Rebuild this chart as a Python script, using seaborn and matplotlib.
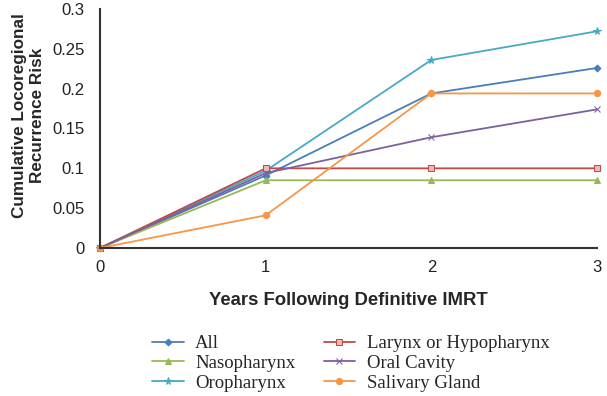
import matplotlib
matplotlib.use("Agg")
import matplotlib.pyplot as plt
import seaborn as sns
import pandas as pd

years = [0, 1, 2, 3]
series_names = ["All", "Nasopharynx", "Oropharynx", "Larynx or Hypopharynx", "Oral Cavity", "Salivary Gland"]
all_vals = [0, 0.091, 0.194, 0.226]
naso_vals = [0, 0.085, 0.085, 0.085]
oro_vals = [0, 0.097, 0.236, 0.272]
larynx_vals = [0, 0.100, 0.100, 0.100]
oral_vals = [0, 0.094, 0.139, 0.174]
saliv_vals = [0, 0.041, 0.194, 0.194]
yticks = [0, 0.05, 0.1, 0.15, 0.2, 0.25, 0.3]
ytick_labels = ["0", "0.05", "0.1", "0.15", "0.2", "0.25", "0.3"]

values = [all_vals, naso_vals, oro_vals, larynx_vals, oral_vals, saliv_vals]

colors = {"All": "#4A7EBB", "Nasopharynx": "#98B954", "Oropharynx": "#46AAC5",
          "Larynx or Hypopharynx": "#BE4B48", "Oral Cavity": "#7D60A0", "Salivary Gland": "#F79646"}
markers = {"All": "D", "Nasopharynx": "^", "Oropharynx": "*",
           "Larynx or Hypopharynx": "s", "Oral Cavity": "x", "Salivary Gland": "o"}
msizes = {"All": 3.5, "Nasopharynx": 4.5, "Oropharynx": 5.5,
          "Larynx or Hypopharynx": 4.5, "Oral Cavity": 4.5, "Salivary Gland": 4.5}

sns.set_style("white")
plt.rcParams["font.family"] = ["Liberation Sans", "DejaVu Sans"]

fig = plt.figure(figsize=(6.07, 3.96), dpi=100)
ax = fig.add_axes([100/607, 1-248/396, 497/607, 239/396])

for name, vals in zip(series_names, values):
    d = pd.DataFrame({"Year": years, "Risk": vals})
    sns.lineplot(data=d, x="Year", y="Risk", color=colors[name], marker=markers[name],
                 markersize=msizes[name], linewidth=1.3, ax=ax, label=name,
                 markeredgecolor=colors[name],
                 markerfacecolor="#F2B8B6" if name == "Larynx or Hypopharynx" else colors[name])

ax.set_xlim(0, 3)
ax.set_ylim(0, 0.3)
ax.set_xticks(years)
ax.set_xticklabels([str(y) for y in years], fontsize=12)
ax.set_yticks(yticks)
ax.set_yticklabels(ytick_labels, fontsize=12)
ax.tick_params(axis="both", length=0, colors="#222222")
ax.tick_params(axis="x", pad=9)
ax.tick_params(axis="y", pad=11)
for s in ["top", "right"]:
    ax.spines[s].set_visible(False)
for s in ["left", "bottom"]:
    ax.spines[s].set_color("#333333")
    ax.spines[s].set_linewidth(1.5)
for line in ax.lines:
    line.set_clip_on(False)

ax.set_xlabel("Years Following Definitive IMRT", fontsize=13.3, fontweight="bold", labelpad=12)
ax.set_ylabel("Cumulative Locoregional\nRecurrence Risk", fontsize=12.3, fontweight="bold")
ax.yaxis.set_label_coords(-0.111, 0.556)

handles, labels = ax.get_legend_handles_labels()
ax.get_legend().remove()
fig.legend(handles, labels, ncol=2, loc="upper left", bbox_to_anchor=(152/607, 1-335/396),
           frameon=False, prop={"family": "Liberation Serif", "size": 13.5},
           handlelength=1.7, columnspacing=1.5, labelspacing=0.14, handletextpad=0.6,
           borderpad=0, borderaxespad=0)

fig.savefig("out.png", dpi=100)
